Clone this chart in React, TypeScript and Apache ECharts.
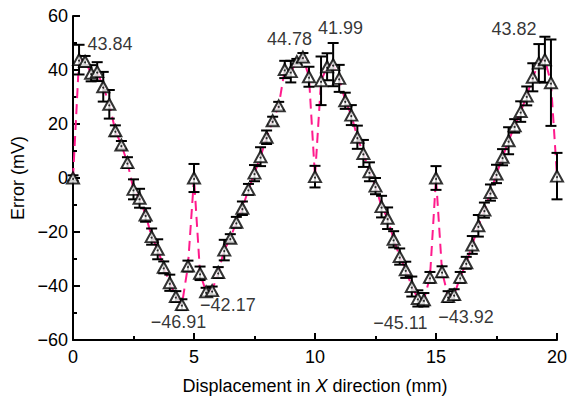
import React, { useEffect, useRef } from "react";
import * as echarts from "echarts";

const displacement = [
  0, 0.25, 0.5, 0.75, 1, 1.25, 1.5, 1.75, 2, 2.25, 2.5, 2.75, 3, 3.25, 3.5, 3.75, 4, 4.25, 4.5, 4.75,
  5, 5.25, 5.5, 5.75, 6, 6.25, 6.5, 6.75, 7, 7.25, 7.5, 7.75, 8, 8.25, 8.5, 8.75, 9, 9.25, 9.5, 9.75,
  10, 10.25, 10.5, 10.75, 11, 11.25, 11.5, 11.75, 12, 12.25, 12.5, 12.75, 13, 13.25, 13.5, 13.75, 14, 14.25, 14.5, 14.75,
  15, 15.25, 15.5, 15.75, 16, 16.25, 16.5, 16.75, 17, 17.25, 17.5, 17.75, 18, 18.25, 18.5, 18.75, 19, 19.25, 19.5, 19.75,
  20,
];

const errorMv = [
  0, 43.84, 43.2, 38.8, 39.4, 33.8, 27.3, 17.5, 12.2, 5.7, -4.2, -7.5, -13.7, -21.7, -26.4, -33.1, -38.8, -43.9, -46.91, -32.6,
  0, -35.3, -42.17, -41.7, -35, -26.7, -22.3, -16.4, -11.2, -4.2, 1.8, 7.9, 15.1, 21.2, 26.7, 40.2, 39.4, 43.1, 44.78, 37.5,
  0.5, 36, 41.2, 41.99, 36.9, 28.6, 23.3, 15.1, 9.1, 2.3, -3, -10.6, -14.9, -22.7, -29.1, -34, -40.2, -44.6, -45.11, -36.8,
  0, -34.7, -43.92, -43.2, -36.8, -31.4, -24.8, -17.7, -11.9, -5.4, 1.5, 7.7, 13.8, 19.3, 24.6, 30.4, 37.3, 42.6, 43.82, 35.3,
  0.7,
];

const errorBar = [
  1, 5.5, 2, 3, 3.5, 5.5, 5.3, 2, 1.5, 2, 3.7, 3.5, 2.5, 3, 3.7, 2.2, 3, 2, 2, 2,
  5.2, 2.5, 1.5, 1.5, 2, 3.8, 1.5, 2, 2.5, 2, 3, 3.5, 2.5, 1.5, 1.5, 3.2, 4, 1, 1.5, 3.7,
  4, 9, 5, 8, 5, 3, 3.7, 4.3, 5, 3.5, 3, 4, 4, 3, 3, 3, 3.7, 3, 2.5, 2,
  4.4, 2, 2, 2, 2, 2.2, 3.3, 4, 2.8, 3, 3.4, 3, 5, 2.5, 3.8, 3.5, 5.2, 7, 8.5, 16,
  8.6,
];

const annotationText = ["43.84", "\u221246.91", "\u221242.17", "44.78", "41.99", "\u221245.11", "\u221243.92", "43.82"];
const annotationX = [1.53, 4.36, 6.4, 8.95, 11.05, 13.53, 16.24, 18.22];
const annotationY = [49.6, -53.3, -47, 51.4, 55.4, -53.7, -51.4, 55.2];

const xTicks = { min: 0, max: 20, interval: 5 };
const yTicks = { min: -60, max: 60, interval: 20 };

const FONT = "'Liberation Sans', Arial, Helvetica, sans-serif";
const FS = 18;

export default function App() {
  const ref = useRef<HTMLDivElement>(null);
  useEffect(() => {
    if (!ref.current) return;
    const chart = echarts.init(ref.current, undefined, { renderer: "svg" });
    const points = displacement.map((x, i) => [x, errorMv[i]]);
    const bars = displacement.map((x, i) => [x, errorMv[i], errorBar[i]]);
    const notes = annotationText.map((t, i) => ({ value: [annotationX[i], annotationY[i]], name: t }));
    const minus = (v: number) => String(v).replace("-", "\u2212");
    chart.setOption({
      animation: false,
      backgroundColor: "#fff",
      grid: { left: 73, right: 16, top: 16, bottom: 56, outerBoundsMode: "none", containLabel: false },
      xAxis: {
        type: "value",
        min: xTicks.min,
        max: xTicks.max,
        interval: xTicks.interval,
        name: "Displacement in {i|X} direction (mm)",
        nameLocation: "middle",
        nameGap: 37,
        nameTextStyle: {
          fontFamily: FONT,
          fontSize: FS,
          color: "#000",
          rich: { i: { fontStyle: "italic", fontFamily: FONT, fontSize: FS, color: "#000" } },
        },
        axisLine: { show: true, onZero: false, lineStyle: { color: "#000", width: 2 } },
        axisTick: { show: true, inside: true, length: 7, lineStyle: { color: "#000", width: 2 } },
        minorTick: { show: true, splitNumber: 2, length: 4, lineStyle: { color: "#000", width: 2 } },
        axisLabel: { fontFamily: FONT, fontSize: FS, color: "#000", margin: 8 },
        splitLine: { show: false },
      },
      yAxis: {
        type: "value",
        min: yTicks.min,
        max: yTicks.max,
        interval: yTicks.interval,
        name: "Error (mV)",
        nameLocation: "middle",
        nameGap: 33,
        nameTextStyle: { fontFamily: FONT, fontSize: FS, color: "#000" },
        axisLine: { show: true, onZero: false, lineStyle: { color: "#000", width: 2 } },
        axisTick: { show: true, inside: true, length: 7, lineStyle: { color: "#000", width: 2 } },
        minorTick: { show: true, splitNumber: 2, length: 4, lineStyle: { color: "#000", width: 2 } },
        axisLabel: { fontFamily: FONT, fontSize: FS, color: "#000", margin: 5, formatter: minus },
        splitLine: { show: false },
      },
      series: [
        {
          type: "line",
          data: points,
          showSymbol: false,
          symbol: "none",
          lineStyle: { color: "#ff1a8c", width: 2, type: [10, 6] },
          z: 1,
        },
        {
          type: "custom",
          data: bars,
          z: 2,
          renderItem: (params: any, api: any) => {
            const x = api.value(0);
            const y = api.value(1);
            const e = api.value(2);
            const top = api.coord([x, y + e]);
            const bot = api.coord([x, y - e]);
            const hw = 5.5;
            const style = { stroke: "#000", lineWidth: 2 };
            return {
              type: "group",
              children: [
                { type: "line", shape: { x1: top[0], y1: top[1], x2: bot[0], y2: bot[1] }, style },
                { type: "line", shape: { x1: top[0] - hw, y1: top[1], x2: top[0] + hw, y2: top[1] }, style },
                { type: "line", shape: { x1: bot[0] - hw, y1: bot[1], x2: bot[0] + hw, y2: bot[1] }, style },
              ],
            };
          },
        },
        {
          type: "scatter",
          data: points,
          symbol: "triangle",
          symbolSize: [12, 11],
          itemStyle: { color: "#fff", borderColor: "#000", borderWidth: 2 },
          z: 3,
        },
        {
          type: "scatter",
          data: points,
          symbol: "circle",
          symbolSize: 2,
          symbolOffset: [0, 1],
          itemStyle: { color: "#000" },
          z: 4,
        },
        {
          type: "scatter",
          data: notes,
          symbolSize: 0,
          z: 5,
          label: {
            show: true,
            position: "inside",
            formatter: "{b}",
            fontFamily: FONT,
            fontSize: FS,
            color: "#000",
          },
        },
      ],
    });
    return () => chart.dispose();
  }, []);
  return <div ref={ref} style={{ position: "fixed", left: 0, top: 0, width: 573, height: 396 }} />;
}
